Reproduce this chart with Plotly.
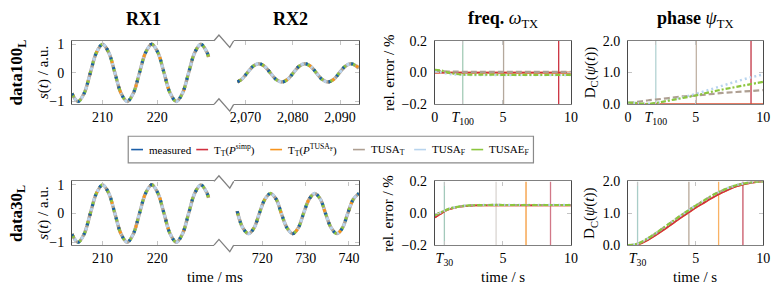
import plotly.graph_objects as go

W, H = 783, 303
FONT = "Liberation Serif"

# ------------------------------------------------------------------ data
# received signals, RX1 (both data sets), time in ms
rx1_t = [204.375, 205.5, 206.625, 207.75, 208.875, 210.0, 211.125, 212.25, 213.375, 214.5,
         215.625, 216.75, 217.875, 219.0, 220.125, 221.25, 222.375, 223.5, 224.625, 225.75,
         226.875, 228.0, 229.125, 229.4]
rx1_s = [-0.72, -1.0, -0.71, 0.0, 0.71, 1.0, 0.71, 0.0, -0.71, -1.0,
         -0.71, 0.0, 0.71, 1.0, 0.71, 0.0, -0.71, -1.0, -0.71, 0.0,
         0.71, 1.0, 0.71, 0.55]
# RX2, data100
rx2_100_t = [2068.3, 2069.14, 2070.36, 2071.58, 2072.8, 2074.02, 2075.24, 2076.46, 2077.68,
             2078.89, 2080.11, 2081.33, 2082.55, 2083.77, 2084.99, 2086.21, 2087.43, 2088.64,
             2089.86, 2091.08, 2092.3, 2093.52, 2094.0]
rx2_100_s = [-0.31, -0.23, 0.0, 0.23, 0.32, 0.23, 0.0, -0.23, -0.32,
             -0.23, 0.0, 0.23, 0.32, 0.23, 0.0, -0.23, -0.32, -0.23,
             0.0, 0.23, 0.32, 0.23, 0.16]
# RX2, data30
rx2_30_t = [714.2, 715.5, 716.8, 718.1, 719.3, 720.6, 721.9, 723.2, 724.4, 725.7, 727.0, 728.3,
            729.5, 730.8, 732.1, 733.4, 734.6, 735.9, 737.2, 738.5, 739.7, 741.0, 742.3]
rx2_30_s = [0.08, -0.5, -0.7, -0.5, 0.0, 0.5, 0.7, 0.5, 0.0, -0.5, -0.7, -0.5,
            0.0, 0.5, 0.7, 0.5, 0.0, -0.5, -0.7, -0.5, 0.0, 0.5, 0.7]

# frequency relative error / %, data100
t100 = [0, 0.5, 1, 1.5, 2, 3, 4, 5, 6, 7, 8, 9, 10]
f100_simp = [0.0, 0.0, 0.0, 0.0, 0.0, 0.0, 0.0, 0.0, 0.0, 0.0, 0.0, 0.0, 0.0]
f100_ttusa = [0.0, 0.0, 0.0, 0.0, 0.0, 0.0, 0.0, 0.0, 0.0, 0.0, 0.0, 0.0, 0.0]
f100_tusaT = [0.012, 0.008, 0.006, 0.006, 0.005, 0.005, 0.005, 0.005, 0.005, 0.005, 0.005, 0.005, 0.005]
f100_tusaF = [0.01, 0.0, -0.008, -0.012, -0.014, -0.015, -0.015, -0.016, -0.016, -0.016, -0.016, -0.016, -0.016]
f100_tusaeF = [0.018, 0.012, 0.0, -0.008, -0.012, -0.013, -0.013, -0.014, -0.014, -0.014, -0.014, -0.014, -0.014]
# phase distance, data100
p100_simp = [0.0, 0.0, 0.0, 0.0, 0.0, 0.0, 0.0, 0.0, 0.0, 0.0, 0.0, 0.0, 0.0]
p100_ttusa = [0.0, 0.0, 0.0, 0.0, 0.0, 0.0, 0.0, 0.0, 0.0, 0.0, 0.0, 0.0, 0.0]
p100_tusaT = [0.05, 0.07, 0.1, 0.13, 0.15, 0.2, 0.25, 0.28, 0.32, 0.36, 0.39, 0.42, 0.45]
p100_tusaF = [0.06, 0.05, 0.03, 0.02, 0.04, 0.12, 0.22, 0.33, 0.46, 0.59, 0.72, 0.84, 0.94]
p100_tusaeF = [0.06, 0.05, 0.03, 0.02, 0.04, 0.12, 0.2, 0.28, 0.38, 0.47, 0.55, 0.63, 0.71]

# frequency relative error / %, data30
t30f = [0, 0.25, 0.5, 0.75, 1, 1.5, 2, 2.5, 3, 4, 5, 6, 7, 8, 9, 10]
f30_simp = [-0.026, -0.012, 0.0, 0.014, 0.024, 0.036, 0.043, 0.047, 0.049, 0.05, 0.05, 0.05, 0.05, 0.05, 0.05, 0.05]
f30_ttusa = [-0.026, -0.012, 0.0, 0.014, 0.024, 0.036, 0.043, 0.047, 0.049, 0.05, 0.05, 0.05, 0.05, 0.05, 0.05, 0.05]
f30_tusaT = [-0.012, -0.002, 0.008, 0.018, 0.027, 0.038, 0.045, 0.049, 0.051, 0.052, 0.052, 0.052, 0.052, 0.052, 0.052, 0.052]
f30_tusaF = [-0.012, -0.002, 0.008, 0.018, 0.027, 0.038, 0.045, 0.049, 0.051, 0.052, 0.052, 0.052, 0.052, 0.052, 0.052, 0.052]
f30_tusaeF = [-0.012, -0.002, 0.008, 0.018, 0.027, 0.038, 0.045, 0.049, 0.051, 0.052, 0.052, 0.052, 0.052, 0.052, 0.052, 0.052]
# phase distance, data30
t30p = [0, 0.5, 1, 1.5, 2, 2.5, 3, 3.5, 4, 4.5, 5, 5.5, 6, 6.5, 7, 7.5, 8, 8.5, 9, 9.5, 10]
p30_simp = [0.0, 0.0, 0.06, 0.17, 0.3, 0.44, 0.59, 0.74, 0.89, 1.03, 1.17, 1.3, 1.43, 1.55, 1.66, 1.76, 1.84, 1.9, 1.95, 1.98, 2.0]
p30_ttusa = [0.0, 0.0, 0.06, 0.17, 0.3, 0.44, 0.59, 0.74, 0.89, 1.03, 1.17, 1.3, 1.43, 1.55, 1.66, 1.76, 1.84, 1.9, 1.95, 1.98, 2.0]
p30_tusaT = [0.0, 0.02, 0.1, 0.22, 0.36, 0.51, 0.66, 0.81, 0.96, 1.1, 1.24, 1.37, 1.5, 1.62, 1.72, 1.81, 1.88, 1.93, 1.97, 1.99, 2.0]
p30_tusaF = [0.0, 0.02, 0.1, 0.22, 0.36, 0.51, 0.66, 0.81, 0.96, 1.1, 1.24, 1.37, 1.5, 1.62, 1.72, 1.81, 1.88, 1.93, 1.97, 1.99, 2.0]
p30_tusaeF = [0.0, 0.02, 0.1, 0.22, 0.36, 0.51, 0.66, 0.81, 0.96, 1.1, 1.24, 1.37, 1.5, 1.62, 1.72, 1.81, 1.88, 1.93, 1.97, 1.99, 2.0]

# convergence / marker times (s)
T100 = 2.05
T30 = 0.7
marks100 = [2.05, 5.05, 9.1]
marks30 = [0.7, 4.5, 6.7, 8.5]

# tick labels
rx1_ticks = [210, 220]
rx1_ticktext = ["210", "220"]
rx2_100_ticks = [2070, 2080, 2090]
rx2_100_ticktext = ["2,070", "2,080", "2,090"]
rx2_30_ticks = [720, 730, 740]
rx2_30_ticktext = ["720", "730", "740"]
sig_yticks = [-1, 0, 1]
sig_yticktext = ["\u22121", "0", "1"]
f_yticks = [-0.2, 0.0, 0.2]
f_yticktext = ["\u22120.2", "0.0", "0.2"]
p_yticks = [0, 1, 2]
p_yticktext = ["0.0", "1.0", "2.0"]
t100_ticks = [0, T100, 5, 10]
t100_ticktext = ["0", "<i>T</i><sub>100</sub>", "5", "10"]
t30_ticks = [T30, 5, 10]
t30_ticktext = ["<i>T</i><sub>30</sub>", "5", "10"]

legend_names = ["measured", "T<sub>T</sub>(<i>P</i><sup>simp</sup>)",
                "T<sub>T</sub>(<i>P</i><sup>TUSA<sub>F</sub></sup>)",
                "TUSA<sub>T</sub>", "TUSA<sub>F</sub>", "TUSAE<sub>F</sub>"]

# ------------------------------------------------------------------ style
C_MEAS = "#1b5ea8"
C_SIMP = "#d1303f"
C_TTUSA = "#f7941d"
C_TUSAT = "#ae9f92"
C_TUSAF = "#b8d4ee"
C_TUSAEF = "#8cc63e"
LEG_COLORS = [C_MEAS, C_SIMP, C_TTUSA, C_TUSAT, C_TUSAF, C_TUSAEF]
XLINE = "#808080"
YLINE = "#4a4a4a"
TICKC = "#c4c4c4"

mark100_f_colors = ["#a3cbb6", "#b4a89c", "#cc3340"]
mark100_p_colors = ["#b3d3d3", "#c0b2a4", "#c23444"]
mark30_f_colors = ["#a3c9bb", "#d9d5d1", "#f59a3a", "#d27888"]
mark30_p_colors = ["#a9cdc8", "#b8a898", "#f9b265", "#c95566"]


def px(x):
    return x / W


def py(y):
    return 1 - y / H


fig = go.Figure()


def add(xa, ya, x, y, color, width, dash="solid", shape="linear"):
    fig.add_trace(go.Scatter(x=x, y=y, xaxis=xa, yaxis=ya, mode="lines",
                             line=dict(color=color, width=width, dash=dash, shape=shape),
                             showlegend=False, hoverinfo="skip"))


def add_signal(xa, ya, t, s):
    # all six series overlap; dash patterns let the colours interleave
    add(xa, ya, t, s, C_TUSAT, 3.4, "solid", "spline")
    add(xa, ya, t, s, C_TUSAF, 3.0, "3px,2px", "spline")
    add(xa, ya, t, s, C_TTUSA, 3.0, "3px,28px", "spline")
    add(xa, ya, t, s, C_SIMP, 3.0, "3px,37px", "spline")
    add(xa, ya, t, s, C_TUSAEF, 3.0, "4px,6px", "spline")
    add(xa, ya, t, s, C_MEAS, 3.0, "2px,8px", "spline")


def add_marks(xa, ya, times, colors, lo, hi):
    for tm, c in zip(times, colors):
        add(xa, ya, [tm, tm], [lo, hi], c, 1.3)


def add_curves(xa, ya, t, simp, ttusa, tusaT, tusaF, tusaeF):
    add(xa, ya, t, ttusa, C_TTUSA, 1.8, "solid", "spline")
    add(xa, ya, t, simp, C_SIMP, 1.8, "solid", "spline")
    add(xa, ya, t, tusaT, C_TUSAT, 2.2, "6px,3px", "spline")
    add(xa, ya, t, tusaF, C_TUSAF, 2.4, "2px,3px", "spline")
    add(xa, ya, t, tusaeF, C_TUSAEF, 2.2, "5px,2px,2px,2px", "spline")


# top row
add_signal("x", "y", rx1_t, rx1_s)
add_signal("x2", "y2", rx2_100_t, rx2_100_s)
add_marks("x3", "y3", marks100, mark100_f_colors, -0.2, 0.2)
add_curves("x3", "y3", t100, f100_simp, f100_ttusa, f100_tusaT, f100_tusaF, f100_tusaeF)
add_marks("x4", "y4", marks100, mark100_p_colors, 0, 2)
add_curves("x4", "y4", t100, p100_simp, p100_ttusa, p100_tusaT, p100_tusaF, p100_tusaeF)
# bottom row
add_signal("x5", "y5", rx1_t, rx1_s)
add_signal("x6", "y6", rx2_30_t, rx2_30_s)
add_marks("x7", "y7", marks30, mark30_f_colors, -0.2, 0.2)
add_curves("x7", "y7", t30f, f30_simp, f30_ttusa, f30_tusaT, f30_tusaF, f30_tusaeF)
add_marks("x8", "y8", marks30, mark30_p_colors, 0, 2)
add_curves("x8", "y8", t30p, p30_simp, p30_ttusa, p30_tusaT, p30_tusaF, p30_tusaeF)

TICKFONT = dict(family=FONT, size=14, color="black")


def xax(dom, rng, tv, tt, anchor):
    return dict(domain=[px(dom[0]), px(dom[1])], range=rng, tickvals=tv, ticktext=tt,
                anchor=anchor, showgrid=False, zeroline=False, showline=True,
                linecolor=XLINE, linewidth=1.4, mirror="ticks", ticks="inside",
                ticklen=4, tickcolor=TICKC, tickwidth=1.2, tickfont=TICKFONT,
                ticklabelstandoff=0, fixedrange=True)


def yax(dom, rng, tv, tt, anchor, mirror="ticks", side="left", labels=True):
    return dict(domain=[py(dom[1]), py(dom[0])], range=rng, tickvals=tv, ticktext=tt,
                anchor=anchor, side=side, showgrid=False, zeroline=False, showline=True,
                linecolor=YLINE, linewidth=1.1, mirror=mirror, ticks="inside",
                ticklen=4, tickcolor=TICKC, tickwidth=1.2, tickfont=TICKFONT,
                showticklabels=labels, ticklabelstandoff=4, fixedrange=True)


TOP = (35.5, 102.5)
BOT = (183.5, 250.5)
RX1 = (69, 213)
RX2 = (233, 360)
FRQ = (437, 575)
PHS = (633, 770)
SIG_RNG = [-1.1, 1.12]

layout_axes = dict(
    xaxis=xax(RX1, [204.4, 230.4], rx1_ticks, rx1_ticktext, "y"),
    yaxis=yax(TOP, SIG_RNG, sig_yticks, sig_yticktext, "x", mirror=False),
    xaxis2=xax(RX2, [2067.5, 2094.0], rx2_100_ticks, rx2_100_ticktext, "y2"),
    yaxis2=yax(TOP, SIG_RNG, sig_yticks, sig_yticktext, "x2", mirror=False, side="right", labels=False),
    xaxis3=xax(FRQ, [0, 10], t100_ticks, t100_ticktext, "y3"),
    yaxis3=yax(TOP, [-0.2, 0.2], f_yticks, f_yticktext, "x3"),
    xaxis4=xax(PHS, [0, 10], t100_ticks, t100_ticktext, "y4"),
    yaxis4=yax(TOP, [0, 2], p_yticks, p_yticktext, "x4"),
    xaxis5=xax(RX1, [204.4, 230.4], rx1_ticks, rx1_ticktext, "y5"),
    yaxis5=yax(BOT, SIG_RNG, sig_yticks, sig_yticktext, "x5", mirror=False),
    xaxis6=xax(RX2, [713.4, 742.3], rx2_30_ticks, rx2_30_ticktext, "y6"),
    yaxis6=yax(BOT, SIG_RNG, sig_yticks, sig_yticktext, "x6", mirror=False, side="right", labels=False),
    xaxis7=xax(FRQ, [0, 10], t30_ticks, t30_ticktext, "y7"),
    yaxis7=yax(BOT, [-0.2, 0.2], f_yticks, f_yticktext, "x7"),
    xaxis8=xax(PHS, [0, 10], t30_ticks, t30_ticktext, "y8"),
    yaxis8=yax(BOT, [0, 2], p_yticks, p_yticktext, "x8"),
)

annotations = []


def text(x, y, s, size=15, angle=0, xanchor="center"):
    annotations.append(dict(x=px(x), y=py(y), xref="paper", yref="paper", text=s,
                            showarrow=False, textangle=angle, xanchor=xanchor,
                            yanchor="middle", font=dict(family=FONT, size=size, color="black")))


# column titles
text(141, 13, "<b>RX1</b>", 18)
text(291, 13, "<b>RX2</b>", 18)
text(506, 13, "<b>freq.</b> <i>\u03c9</i><sub>TX</sub>", 18)
text(701, 13, "<b>phase</b> <i>\u03c8</i><sub>TX</sub>", 18)
# row titles
text(14, 69, "<b>data100</b><sub><b>L</b></sub>", 17, -90)
text(14, 217, "<b>data30</b><sub><b>L</b></sub>", 17, -90)
# y-axis titles
for yc in (69, 217):
    text(40, yc, "<i>s</i>(<i>t</i>) / a.u.", 15, -90)
    text(390, yc, "rel. error / %", 15, -90)
    text(595, yc, "D<sub>C</sub>(<i>\u03c8</i>(<i>t</i>))", 15, -90)
# x-axis titles
text(214, 284, "time / ms", 15)
text(506, 284, "time / s", 15)
text(701, 284, "time / s", 15)

# legend (drawn in the gap between the rows)
shapes = [dict(type="rect", xref="paper", yref="paper", x0=px(126), x1=px(537),
               y0=py(164), y1=py(136), line=dict(color="#8a8a8a", width=1.2),
               fillcolor="white", layer="below")]
leg_line_x = [129, 195, 270, 354, 416, 474]
leg_text_x = [145, 211, 286, 370, 432, 490]
for lx, tx, c, name in zip(leg_line_x, leg_text_x, LEG_COLORS, legend_names):
    shapes.append(dict(type="line", xref="paper", yref="paper", x0=px(lx), x1=px(lx + 12),
                       y0=py(150), y1=py(150), line=dict(color=c, width=1.6)))
    text(tx, 150, name, 11, 0, "left")

# axis breaks (zig-zag) between RX1 and RX2
for yl in (TOP[0], TOP[1], BOT[0], BOT[1]):
    path = (f"M {px(213)},{py(yl)} L {px(218)},{py(yl - 6)} L {px(229)},{py(yl + 7)} "
            f"L {px(233)},{py(yl)}")
    shapes.append(dict(type="path", xref="paper", yref="paper", path=path,
                       line=dict(color=XLINE, width=1.3)))

fig.update_layout(
    width=W, height=H, autosize=False,
    margin=dict(l=0, r=0, t=0, b=0),
    paper_bgcolor="white", plot_bgcolor="white",
    showlegend=False,
    annotations=annotations, shapes=shapes,
    font=dict(family=FONT, color="black"),
    **layout_axes,
)

fig.write_html("out.html", config={"displayModeBar": False},
               post_script="document.body.style.margin='0px';")
